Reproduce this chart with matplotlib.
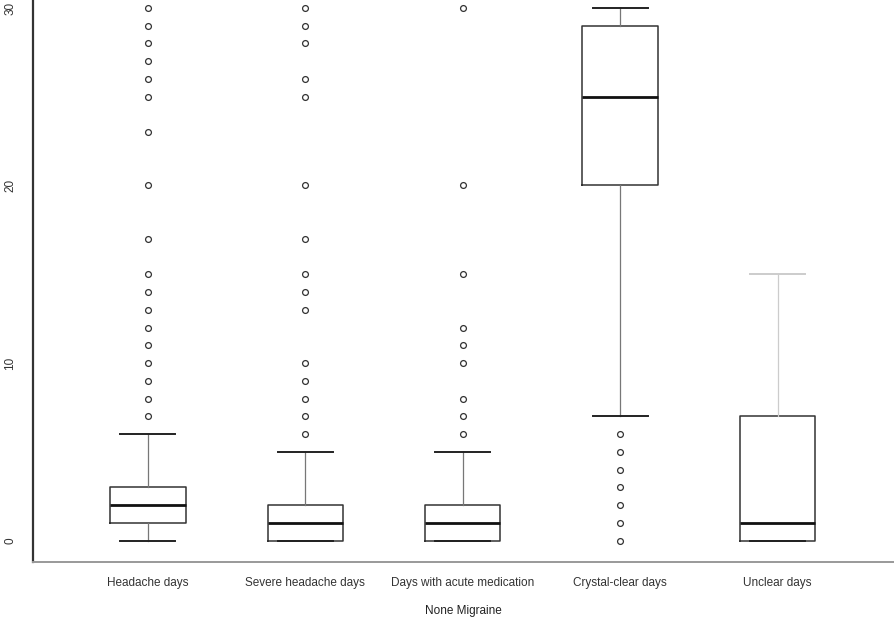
import matplotlib
matplotlib.use("Agg")
import matplotlib.pyplot as plt

plt.rcParams["font.family"] = ["Liberation Sans Narrow", "Liberation Sans", "DejaVu Sans"]

categories = ["Headache days", "Severe headache days", "Days with acute medication",
              "Crystal-clear days", "Unclear days"]
whisker_low = [0, 0, 0, 7, 0]
q1 = [1, 0, 0, 20, 0]
median = [2, 1, 1, 25, 1]
q3 = [3, 2, 2, 29, 7]
whisker_high = [6, 5, 5, 30, 15]
outliers = [
    [7, 8, 9, 10, 11, 12, 13, 14, 15, 17, 20, 23, 25, 26, 27, 28, 29, 30],
    [6, 7, 8, 9, 10, 13, 14, 15, 17, 20, 25, 26, 28, 29, 30],
    [6, 7, 8, 10, 11, 12, 15, 20, 30],
    [0, 1, 2, 3, 4, 5, 6],
    [],
]

stats = []
for i, name in enumerate(categories):
    stats.append({"label": name, "whislo": whisker_low[i], "q1": q1[i], "med": median[i],
                  "q3": q3[i], "whishi": whisker_high[i], "fliers": outliers[i]})

fig = plt.figure(figsize=(8.94, 6.28), dpi=100)
ax = fig.add_axes([33 / 894, 66 / 628, 861 / 894, 562 / 628])

art = ax.bxp(stats, positions=range(1, 6), widths=0.48, capwidths=0.35,
             boxprops=dict(color="#333333", linewidth=1.1),
             medianprops=dict(color="#111111", linewidth=2.0),
             whiskerprops=dict(color="#777777", linewidth=0.9),
             capprops=dict(color="#222222", linewidth=1.4),
             flierprops=dict(marker="o", markersize=4.2, markerfacecolor="none",
                             markeredgecolor="#333333", markeredgewidth=0.9,
                             linestyle="none"))

# unclear days whisker is faint in the original
for ln in art["whiskers"][8:] + art["caps"][9:]:
    ln.set_color("#cccccc")

ax.set_xlim(0.27, 5.74)
ax.set_ylim(-1.21, 30.45)
ax.set_yticks([0, 10, 20, 30])
ax.tick_params(axis="both", length=0, labelsize=8.5, colors="#333333")
ax.tick_params(axis="x", pad=11)
ax.tick_params(axis="y", pad=12)
for lab in ax.get_yticklabels():
    lab.set_rotation(90)
    lab.set_va("center")
ax.set_xlabel("None Migraine", fontsize=8.5, color="#222222", labelpad=11)

for s in ["top", "right"]:
    ax.spines[s].set_visible(False)
ax.spines["left"].set_color("#333333")
ax.spines["left"].set_linewidth(1.6)
ax.spines["bottom"].set_color("#999999")
ax.spines["bottom"].set_linewidth(1.4)

fig.savefig("out.png", dpi=100)
